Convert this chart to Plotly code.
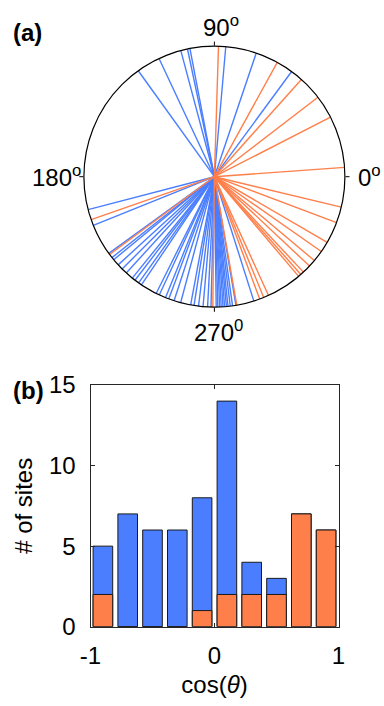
import plotly.graph_objects as go

# ---- data ----
# (a) directions (degrees) of the sites
blue_angles = [125.7, 115.1, 104.9, 101.9, 100.8, 85.0, 71.3, 53.7,
               194.6, 201.9, 216.0,
               218.3, 219.5, 222.5, 225.0, 227.5, 231.0, 232.5,
               234.5, 236.0, 243.5, 245.0,
               248.0, 249.5, 252.0, 255.0,
               259.5, 261.0, 263.0, 265.0, 267.0, 268.5,
               270.8, 271.5, 272.3, 273.0, 273.8, 274.5, 275.3, 276.0, 277.0, 278.0, 279.5,
               287.6]
orange_angles = [88.2, 61.2, 48.2, 37.5, 27.2, 4.1,
                 -13.5, -20.6, -30.2, -35.0, -40.0, -43.2, -47.0, -48.5, -49.8,
                 -65.5, -67.8, -69.7, -80.1, 269.3, 199.2, 216.6]

# (b) histogram of cos(theta)
bin_centers = [-0.9, -0.7, -0.5, -0.3, -0.1, 0.1, 0.3, 0.5, 0.7, 0.9]
total_counts = [5, 7, 6, 6, 8, 14, 4, 3, 7, 6]
orange_counts = [2, 0, 0, 0, 1, 2, 2, 2, 7, 6]

polar_labels = ["0<sup>o</sup>", "90<sup>o</sup>", "180<sup>o</sup>", "270<sup>0</sup>"]
x_ticks = [-1, 0, 1]
y_ticks = [0, 5, 10, 15]

BLUE = "#4A7EFF"
ORANGE = "#FF7F4A"
FONT = "Liberation Sans, Arial, sans-serif"
FS = 24
W, H = 384, 706


def spokes(angles):
    r, t = [], []
    for a in angles:
        r += [0, 1, None]
        t += [a, a, None]
    return r, t


fig = go.Figure()
rb, tb = spokes(blue_angles)
fig.add_trace(go.Scatterpolar(r=rb, theta=tb, mode="lines",
                              line=dict(color=BLUE, width=1.4),
                              showlegend=False, hoverinfo="skip"))
ro, to = spokes(orange_angles)
fig.add_trace(go.Scatterpolar(r=ro, theta=to, mode="lines",
                              line=dict(color=ORANGE, width=1.4),
                              showlegend=False, hoverinfo="skip"))

fig.add_trace(go.Bar(x=bin_centers, y=total_counts, width=0.158,
                     marker=dict(color=BLUE, line=dict(color="#1a1a1a", width=1)),
                     showlegend=False, xaxis="x", yaxis="y"))
fig.add_trace(go.Bar(x=bin_centers, y=orange_counts, width=0.158,
                     marker=dict(color=ORANGE, line=dict(color="#1a1a1a", width=1)),
                     showlegend=False, xaxis="x", yaxis="y"))

cx, cy, R = 214.4, 176.7, 130.5

fig.update_layout(
    template="none",
    width=W, height=H,
    margin=dict(l=0, r=0, t=0, b=0, pad=0, autoexpand=False),
    paper_bgcolor="white", plot_bgcolor="white",
    font=dict(family=FONT, size=FS, color="black"),
    barmode="overlay",
    polar=dict(
        domain=dict(x=[(cx - R) / W, (cx + R) / W], y=[1 - (cy + R) / H, 1 - (cy - R) / H]),
        bgcolor="white",
        radialaxis=dict(visible=False, range=[0, 1]),
        angularaxis=dict(showgrid=False, showline=True, linecolor="black", linewidth=1.2,
                         ticks="outside", ticklen=4, tickcolor="black",
                         tickvals=[0, 90, 180, 270], showticklabels=False,
                         direction="counterclockwise", rotation=0),
    ),
    xaxis=dict(domain=[90.5 / W, 338.5 / W], range=[-1, 1], anchor="y",
               tickvals=x_ticks, ticktext=["-1", "0", "1"], automargin=False,
               ticks="inside", ticklen=4, tickcolor="#262626",
               showline=True, linecolor="#262626", linewidth=1, mirror="ticks",
               showgrid=False, zeroline=False, ticklabelstandoff=7,
               title=dict(text="cos(<i>θ</i>)", standoff=8, font=dict(size=FS))),
    yaxis=dict(domain=[1 - 626.7 / H, 1 - 385 / H], range=[0, 15], anchor="x",
               tickvals=y_ticks, automargin=False,
               ticks="inside", ticklen=4, tickcolor="#262626",
               showline=True, linecolor="#262626", linewidth=1, mirror="ticks",
               showgrid=False, zeroline=False, ticklabelstandoff=9,
               title=dict(text="# of sites", standoff=9, font=dict(size=FS))),
)

# panel labels and angular labels
ann = [
    dict(text="<b>(a)</b>", x=11, y=33, xanchor="left"),
    dict(text="<b>(b)</b>", x=11, y=390, xanchor="left"),
    dict(text=polar_labels[1], x=221, y=26, xanchor="center"),
    dict(text=polar_labels[3], x=218, y=331, xanchor="center"),
    dict(text=polar_labels[2], x=83, y=176, xanchor="right"),
    dict(text=polar_labels[0], x=356, y=176, xanchor="left"),
]
for a in ann:
    fig.add_annotation(text=a["text"], x=a["x"] / W, y=1 - a["y"] / H,
                       xref="paper", yref="paper", xanchor=a["xanchor"], yanchor="middle",
                       showarrow=False, font=dict(family=FONT, size=FS, color="black"))

fig.write_html("out.html", config={"displayModeBar": False},
               post_script="document.body.style.margin='0';document.body.style.overflow='hidden';")
